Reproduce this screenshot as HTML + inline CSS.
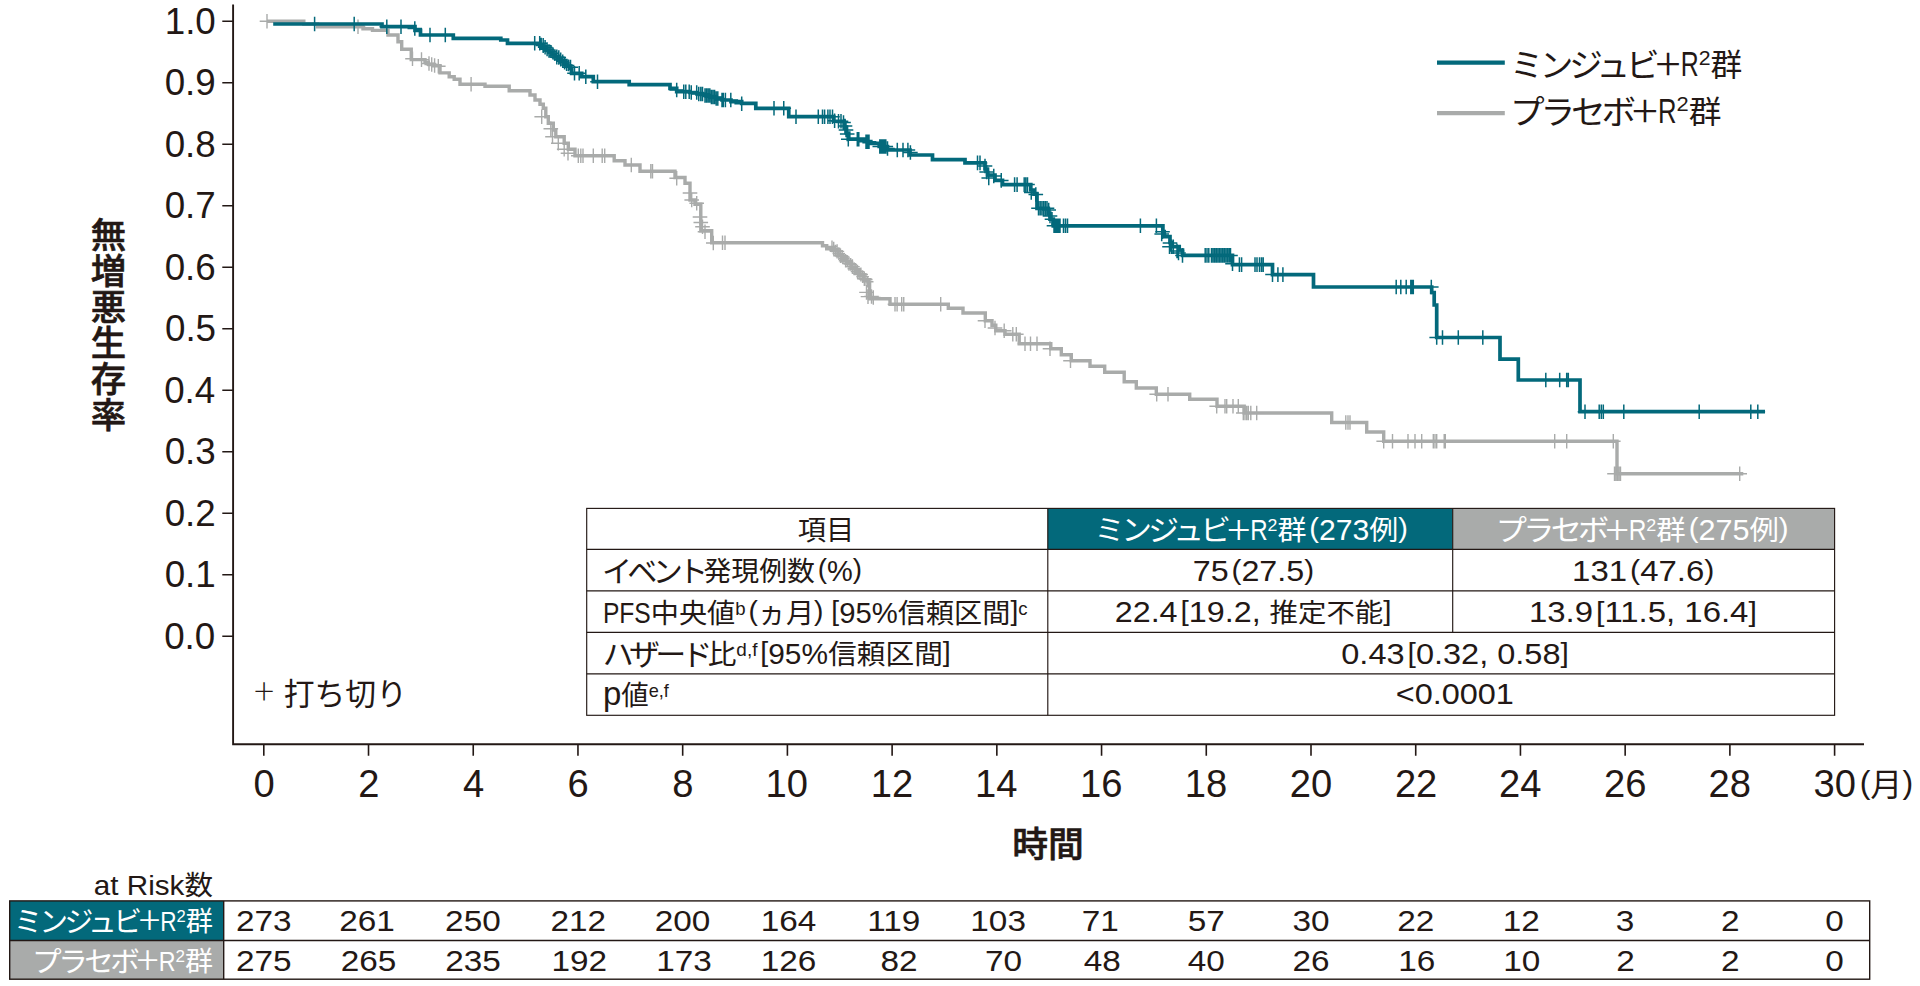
<!DOCTYPE html>
<html lang="ja"><head><meta charset="utf-8"><title>無増悪生存率 Kaplan-Meier曲線</title>
<style>
html,body{margin:0;padding:0;background:#fff}
svg{display:block}
text{font-family:"Liberation Sans", "Noto Sans CJK JP", sans-serif;white-space:pre}
.sp{font-size:66%;baseline-shift:.42em}
.s2{font-size:61%;baseline-shift:.52em}
.sl{font-size:67%;baseline-shift:.545em}
.pb{baseline-shift:.094em}
.pn{font-size:92%;baseline-shift:.076em}
.kn{font-size:106%;letter-spacing:-.12em;baseline-shift:-.03em}
.kj{font-size:88%}
.kt{font-size:108%;letter-spacing:-.155em;baseline-shift:-.03em}
.lp{font-size:120%}
.la{font-size:104%}
.ll{font-size:112%}
.pl{font-family:"Noto Sans CJK JP",sans-serif;font-weight:300;font-size:148%;baseline-shift:-.108em}
</style></head><body>
<svg width="1920" height="986" viewBox="0 0 1920 986">
<rect width="1920" height="986" fill="#fff"/>
<g fill="none" stroke-linejoin="miter" stroke-linecap="butt">
<path d="M267 21.3L303.8 21.3L303.8 24L317.5 24L317.5 26.7L363 26.7L363 28.75L372.5 28.75L372.5 30.4L388 30.4L388 35L398 35L398 41.7L401.7 41.7L401.7 49.2L411.25 49.2L411.25 59.6L425 59.6L425 62.1L428.3 62.1L428.3 64.2L433.3 64.2L433.3 65.8L440 65.8L440 72.9L449.2 72.9L449.2 76.7L454.2 76.7L454.2 79.2L460 79.2L460 84.2L485 84.2L485 86.25L509.2 86.25L509.2 90.8L530 90.8L530 95L535 95L535 100L540 100L540 104.2L543.3 104.2L543.3 108.3L545.8 108.3L545.8 116.7L548.3 116.7L548.3 123.3L553.3 123.3L553.3 130L555.8 130L555.8 136.7L564.2 136.7L564.2 143.3L568.3 143.3L568.3 149.2L575 149.2L575 155.8L614.2 155.8L614.2 160.8L625 160.8L625 165L640 165L640 171.3L675 171.3L675 177.5L685 177.5L685 183.3L690 183.3L690 200L695 200L695 204.2L700.8 204.2L700.8 230.8L711.7 230.8L711.7 242.8L822.5 242.8L822.5 245.75L826.7 245.75L826.7 248.7L833.75 248.7L833.75 250.5L838.1 250.5L838.1 254.6L842.4 254.6L842.4 258.8L846.7 258.8L846.7 263L851 263L851 267.1L855.4 267.1L855.4 271.3L859.7 271.3L859.7 275.4L864 275.4L864 279.6L868.3 279.6L868.3 282L869.6 282L869.6 298.7L890 298.7L890 304.3L948.3 304.3L948.3 308.25L963 308.25L963 313L985.3 313L985.3 320.8L992 320.8L992 325.3L995.8 325.3L995.8 330.8L1005 330.8L1005 334.2L1019.2 334.2L1019.2 343.8L1050.8 343.8L1050.8 348.8L1061.3 348.8L1061.3 354.7L1071.3 354.7L1071.3 360.8L1090 360.8L1090 366.3L1104.7 366.3L1104.7 372.2L1124.2 372.2L1124.2 381.7L1136.3 381.7L1136.3 388L1156.3 388L1156.3 394.2L1189.7 394.2L1189.7 399.2L1217 399.2L1217 406.3L1244.2 406.3L1244.2 413L1331.7 413L1331.7 422.5L1366.7 422.5L1366.7 432L1383.7 432L1383.7 441.2L1617 441.2L1617 473.8L1743.3 473.8" stroke="#a9abaa" stroke-width="3.4"/>
<path d="M267 14v14.6M259.7 21.3h14.6M358 19.4v14.6M350.7 26.7h14.6M412.5 51.5v14.6M405.2 58.8h14.6M421.5 52.3v14.6M414.2 59.6h14.6M429 56.2v14.6M421.7 63.5h14.6M431.7 57.2v14.6M424.4 64.5h14.6M434.6 58.2v14.6M427.3 65.5h14.6M438.3 58.9v14.6M431 66.2h14.6M471.1 76.9v14.6M463.8 84.2h14.6M541.7 109.4v14.6M534.4 116.7h14.6M550.8 121.4v14.6M543.5 128.7h14.6M552.5 129.4v14.6M545.2 136.7h14.6M558.3 136v14.6M551 143.3h14.6M564.2 141.9v14.6M556.9 149.2h14.6M568 146v14.6M560.7 153.3h14.6M578.3 148.5v14.6M571 155.8h14.6M580.8 148.5v14.6M573.5 155.8h14.6M583 148.5v14.6M575.7 155.8h14.6M593.3 148.5v14.6M586 155.8h14.6M602.2 148.5v14.6M594.9 155.8h14.6M604.7 148.5v14.6M597.4 155.8h14.6M631.3 157.7v14.6M624 165h14.6M650.8 164v14.6M643.5 171.3h14.6M652.5 164v14.6M645.2 171.3h14.6M676.7 171v14.6M669.4 178.3h14.6M690 185.7v14.6M682.7 193h14.6M691.7 192.7v14.6M684.4 200h14.6M696.7 196v14.6M689.4 203.3h14.6M700 209.7v14.6M692.7 217h14.6M700.8 215.2v14.6M693.5 222.5h14.6M702.5 219.4v14.6M695.2 226.7h14.6M705 224.4v14.6M697.7 231.7h14.6M713.3 235.7v14.6M706 243h14.6M722.5 235.5v14.6M715.2 242.8h14.6M725 235.5v14.6M717.7 242.8h14.6M832 240.6v11.6M826.2 246.4h11.6M833.7 241.7v13.6M826.9 248.5h13.6M835.4 244.65v12.1M829.35 250.7h12.1M837.1 244.35v14.1M830.05 251.4h14.1M838.8 247.3v12.6M832.5 253.6h12.6M840.5 248.4v14.6M833.2 255.7h14.6M842.2 249.95v13.1M835.65 256.5h13.1M843.9 252.8v11.6M838.1 258.6h11.6M845.6 253.9v13.6M838.8 260.7h13.6M847.3 255.45v12.1M841.25 261.5h12.1M849 256.55v14.1M841.95 263.6h14.1M850.7 258.1v12.6M844.4 264.4h12.6M852.4 259.3v14.6M845.1 266.6h14.6M854.1 262.15v13.1M847.55 268.7h13.1M855.8 263.7v11.6M850 269.5h11.6M857.5 264.8v13.6M850.7 271.6h13.6M859.2 267.65v12.1M853.15 273.7h12.1M860.9 267.45v14.1M853.85 274.5h14.1M862.6 270.3v12.6M856.3 276.6h12.6M864.3 271.5v14.6M857 278.8h14.6M866 272.95v13.1M859.45 279.5h13.1M867.7 275.9v11.6M861.9 281.7h11.6M866.5 285.1v14.6M859.2 292.4h14.6M868 289.3v14.6M860.7 296.6h14.6M871.5 289.2v14.6M864.2 296.5h14.6M873.3 290.2v14.6M866 297.5h14.6M895 297v14.6M887.7 304.3h14.6M897.1 297v14.6M889.8 304.3h14.6M901.7 297v14.6M894.4 304.3h14.6M903.75 297v14.6M896.45 304.3h14.6M940.7 297v14.6M933.4 304.3h14.6M985 313.5v14.6M977.7 320.8h14.6M995 320.7v14.6M987.7 328h14.6M1004.2 323.5v14.6M996.9 330.8h14.6M1012.8 326.9v14.6M1005.5 334.2h14.6M1016.3 326.9v14.6M1009 334.2h14.6M1025 336.5v14.6M1017.7 343.8h14.6M1030.5 336.5v14.6M1023.2 343.8h14.6M1037 336.5v14.6M1029.7 343.8h14.6M1050 341.5v14.6M1042.7 348.8h14.6M1070.5 353.5v14.6M1063.2 360.8h14.6M1156.7 386.9v14.6M1149.4 394.2h14.6M1168 386.9v14.6M1160.7 394.2h14.6M1216.7 399v14.6M1209.4 406.3h14.6M1225 399v14.6M1217.7 406.3h14.6M1226.7 399v14.6M1219.4 406.3h14.6M1233 399v14.6M1225.7 406.3h14.6M1238.3 399v14.6M1231 406.3h14.6M1243.3 405.7v14.6M1236 413h14.6M1245 405.7v14.6M1237.7 413h14.6M1246.7 405.7v14.6M1239.4 413h14.6M1248.3 405.7v14.6M1241 413h14.6M1250.8 405.7v14.6M1243.5 413h14.6M1256.7 405.7v14.6M1249.4 413h14.6M1345.8 415.2v14.6M1338.5 422.5h14.6M1348 415.2v14.6M1340.7 422.5h14.6M1350 415.2v14.6M1342.7 422.5h14.6M1383.7 433.9v14.6M1376.4 441.2h14.6M1392.5 433.9v14.6M1385.2 441.2h14.6M1408 433.9v14.6M1400.7 441.2h14.6M1415 433.9v14.6M1407.7 441.2h14.6M1421.7 433.9v14.6M1414.4 441.2h14.6M1433.3 433.9v14.6M1426 441.2h14.6M1435 433.9v14.6M1427.7 441.2h14.6M1436.7 433.9v14.6M1429.4 441.2h14.6M1444.2 433.9v14.6M1436.9 441.2h14.6M1445.3 433.9v14.6M1438 441.2h14.6M1554.7 433.9v14.6M1547.4 441.2h14.6M1566.7 433.9v14.6M1559.4 441.2h14.6M1613.3 433.9v14.6M1606 441.2h14.6M1614.5 466.5v14.6M1607.2 473.8h14.6M1616 466.5v14.6M1608.7 473.8h14.6M1617.5 466.5v14.6M1610.2 473.8h14.6M1619 466.5v14.6M1611.7 473.8h14.6M1620.5 466.5v14.6M1613.2 473.8h14.6M1739.7 466.5v14.6M1732.4 473.8h14.6" stroke="#a9abaa" stroke-width="1.4"/>
<path d="M273.2 24L382 24L382 26.7L415 26.7L415 30.5L420.5 30.5L420.5 35L453.3 35L453.3 38.3L500.8 38.3L500.8 40L507.5 40L507.5 43.3L540 43.3L540 45.3L543 45.3L543 47.5L546 47.5L546 50L549 50L549 52.3L552 52.3L552 54.5L555 54.5L555 57L558 57L558 59.3L561 59.3L561 61.5L564 61.5L564 64L567 64L567 66L570 66L570 68.3L571.7 68.3L571.7 73.3L581.7 73.3L581.7 76.7L593.3 76.7L593.3 81.7L629.2 81.7L629.2 84.6L670 84.6L670 88.3L676.7 88.3L676.7 91.7L690 91.7L690 92.5L697 92.5L697 94L704 94L704 95.5L710 95.5L710 97L716 97L716 98.5L722 98.5L722 100L731 100L731 101.7L741.7 101.7L741.7 103.3L755.8 103.3L755.8 108.3L788.75 108.3L788.75 116.7L833.75 116.7L833.75 121.25L844.2 121.25L844.2 127L846.5 127L846.5 133L848.75 133L848.75 139.2L864.2 139.2L864.2 141.7L870.8 141.7L870.8 143.3L879.2 143.3L879.2 146.5L887.5 146.5L887.5 150L910 150L910 155L932.5 155L932.5 159.6L965 159.6L965 162.9L985 162.9L985 169L987.5 169L987.5 175L995 175L995 180.4L1002.5 180.4L1002.5 184.6L1030.8 184.6L1030.8 190L1034 190L1034 194.2L1037 194.2L1037 208.3L1048.3 208.3L1048.3 213.3L1050 213.3L1050 219.2L1053.3 219.2L1053.3 225.8L1162.9 225.8L1162.9 231.7L1164.2 231.7L1164.2 236.7L1170 236.7L1170 242.5L1171.7 242.5L1171.7 246.7L1179.2 246.7L1179.2 250L1182.5 250L1182.5 255.4L1232.5 255.4L1232.5 264.6L1272.5 264.6L1272.5 274.6L1313.5 274.6L1313.5 287L1431.7 287L1431.7 292.5L1434.2 292.5L1434.2 305L1436.7 305L1436.7 337.5L1500 337.5L1500 359.2L1518.3 359.2L1518.3 380L1580 380L1580 411.7L1765 411.7" stroke="#03697b" stroke-width="3.7"/>
<path d="M314.6 16.7v14.6M307.3 24h14.6M354.2 16.7v14.6M346.9 24h14.6M386.8 19.4v14.6M379.5 26.7h14.6M401 19.4v14.6M393.7 26.7h14.6M414.8 21.2v14.6M407.5 28.5h14.6M430 27.7v14.6M422.7 35h14.6M445.3 27.7v14.6M438 35h14.6M534.7 36v14.6M527.4 43.3h14.6M539.7 36v14.6M532.4 43.3h14.6M541.2 37.7v11.8M535.3 43.6h11.8M543.2 37.98v15.04M535.68 45.5h15.04M545.1 40.05v14.5M537.85 47.3h14.5M547.1 42.22v13.96M540.12 49.2h13.96M549 44.29v13.42M542.29 51h13.42M551 45.06v12.88M544.56 51.5h12.88M552.9 47.13v12.34M546.73 53.3h12.34M554.9 49.3v11.8M549 55.2h11.8M556.8 49.48v15.04M549.28 57h15.04M558.8 50.25v14.5M551.55 57.5h14.5M560.7 52.42v13.96M553.72 59.4h13.96M562.7 54.49v13.42M555.99 61.2h13.42M564.6 56.56v12.88M558.16 63h12.88M566.6 58.73v12.34M560.43 64.9h12.34M568.5 59.5v11.8M562.6 65.4h11.8M570.5 59.68v15.04M562.98 67.2h15.04M574.5 66v14.6M567.2 73.3h14.6M579.2 66v14.6M571.9 73.3h14.6M585.8 69.4v14.6M578.5 76.7h14.6M597.5 74.4v14.6M590.2 81.7h14.6M676.7 82.7v14.6M669.4 90h14.6M683.75 84.4v14.6M676.45 91.7h14.6M685.8 84.4v14.6M678.5 91.7h14.6M689.2 84.4v14.6M681.9 91.7h14.6M691.25 85.2v14.6M683.95 92.5h14.6M696.7 85.2v14.6M689.4 92.5h14.6M698.75 86.7v14.6M691.45 94h14.6M700.8 86.7v14.6M693.5 94h14.6M702.5 86.7v14.6M695.2 94h14.6M705 88.2v14.6M697.7 95.5h14.6M706.6 88.2v14.6M699.3 95.5h14.6M708.2 88.2v14.6M700.9 95.5h14.6M709.8 88.2v14.6M702.5 95.5h14.6M711.4 89.7v14.6M704.1 97h14.6M713 89.7v14.6M705.7 97h14.6M714.6 89.7v14.6M707.3 97h14.6M716.2 91.2v14.6M708.9 98.5h14.6M717.8 91.2v14.6M710.5 98.5h14.6M722 92.7v14.6M714.7 100h14.6M723.3 92.7v14.6M716 100h14.6M725.4 92.7v14.6M718.1 100h14.6M730.8 92.7v14.6M723.5 100h14.6M741.7 96.5v14.6M734.4 103.8h14.6M774 101v14.6M766.7 108.3h14.6M783.75 101v14.6M776.45 108.3h14.6M796 109.4v14.6M788.7 116.7h14.6M818.3 109.4v14.6M811 116.7h14.6M822.5 109.4v14.6M815.2 116.7h14.6M824.6 109.4v14.6M817.3 116.7h14.6M827.9 109.4v14.6M820.6 116.7h14.6M830 109.4v14.6M822.7 116.7h14.6M832.5 109.4v14.6M825.2 116.7h14.6M834.6 113.5v14.6M827.3 120.8h14.6M838.5 113.95v14.6M831.2 121.25h14.6M841 113.95v14.6M833.7 121.25h14.6M843.5 115.2v14.6M836.2 122.5h14.6M845 118.7v14.6M837.7 126h14.6M846 122.7v14.6M838.7 130h14.6M847.2 126.7v14.6M839.9 134h14.6M848.3 131.9v14.6M841 139.2h14.6M857.3 131.9v14.6M850 139.2h14.6M858.8 131.9v14.6M851.5 139.2h14.6M866 134.4v14.6M858.7 141.7h14.6M867.5 134.4v14.6M860.2 141.7h14.6M869 134.4v14.6M861.7 141.7h14.6M879.8 139.2v14.6M872.5 146.5h14.6M881.3 139.2v14.6M874 146.5h14.6M882.8 139.2v14.6M875.5 146.5h14.6M884.3 139.2v14.6M877 146.5h14.6M885.8 139.2v14.6M878.5 146.5h14.6M887.5 141.2v14.6M880.2 148.5h14.6M897.3 142.7v14.6M890 150h14.6M903 142.7v14.6M895.7 150h14.6M907.9 142.7v14.6M900.6 150h14.6M910.4 145.2v14.6M903.1 152.5h14.6M977.5 155.6v14.6M970.2 162.9h14.6M980 155.6v14.6M972.7 162.9h14.6M985 158.7v14.6M977.7 166h14.6M986.7 164.7v14.6M979.4 172h14.6M988.75 170.7v14.6M981.45 178h14.6M993.75 168.7v14.6M986.45 176h14.6M1001.25 173.1v14.6M993.95 180.4h14.6M1014.6 177.3v14.6M1007.3 184.6h14.6M1017.1 177.3v14.6M1009.8 184.6h14.6M1024.2 177.3v14.6M1016.9 184.6h14.6M1025.8 177.3v14.6M1018.5 184.6h14.6M1027.5 177.3v14.6M1020.2 184.6h14.6M1031.25 185.2v14.6M1023.95 192.5h14.6M1035.8 187.2v14.6M1028.5 194.5h14.6M1038.5 201v14.6M1031.2 208.3h14.6M1040.2 201v14.6M1032.9 208.3h14.6M1041.9 201v14.6M1034.6 208.3h14.6M1043.6 201v14.6M1036.3 208.3h14.6M1045.3 201v14.6M1038 208.3h14.6M1047 201v14.6M1039.7 208.3h14.6M1048.7 202.7v14.6M1041.4 210h14.6M1050 208.7v14.6M1042.7 216h14.6M1052 211.9v14.6M1044.7 219.2h14.6M1054 218.5v14.6M1046.7 225.8h14.6M1055.5 218.5v14.6M1048.2 225.8h14.6M1057 218.5v14.6M1049.7 225.8h14.6M1058.5 218.5v14.6M1051.2 225.8h14.6M1060 218.5v14.6M1052.7 225.8h14.6M1063.5 218.5v14.6M1056.2 225.8h14.6M1065.5 218.5v14.6M1058.2 225.8h14.6M1067.5 218.5v14.6M1060.2 225.8h14.6M1140.4 218.5v14.6M1133.1 225.8h14.6M1156.4 218.5v14.6M1149.1 225.8h14.6M1162.5 224.4v14.6M1155.2 231.7h14.6M1161.7 226.7v14.6M1154.4 234h14.6M1170 235.7v14.6M1162.7 243h14.6M1169.5 239.4v14.6M1162.2 246.7h14.6M1171.5 239.4v14.6M1164.2 246.7h14.6M1173.3 239.4v14.6M1166 246.7h14.6M1177 243.7v14.6M1169.7 251h14.6M1178.5 245.7v14.6M1171.2 253h14.6M1182.5 248.1v14.6M1175.2 255.4h14.6M1205.2 248.1v14.6M1197.9 255.4h14.6M1207 248.1v14.6M1199.7 255.4h14.6M1208.8 248.1v14.6M1201.5 255.4h14.6M1211.5 248.1v14.6M1204.2 255.4h14.6M1213.1 248.1v14.6M1205.8 255.4h14.6M1214.7 248.1v14.6M1207.4 255.4h14.6M1216.3 248.1v14.6M1209 255.4h14.6M1217.9 248.1v14.6M1210.6 255.4h14.6M1219.5 248.1v14.6M1212.2 255.4h14.6M1221.1 248.1v14.6M1213.8 255.4h14.6M1222.7 248.1v14.6M1215.4 255.4h14.6M1224.3 248.1v14.6M1217 255.4h14.6M1225.9 248.1v14.6M1218.6 255.4h14.6M1227.5 248.1v14.6M1220.2 255.4h14.6M1229.1 248.1v14.6M1221.8 255.4h14.6M1230.5 248.1v14.6M1223.2 255.4h14.6M1232.5 256.45v14.6M1225.2 263.75h14.6M1239.4 257.3v14.6M1232.1 264.6h14.6M1241.6 257.3v14.6M1234.3 264.6h14.6M1255 257.3v14.6M1247.7 264.6h14.6M1257 257.3v14.6M1249.7 264.6h14.6M1259.5 257.3v14.6M1252.2 264.6h14.6M1261.5 257.3v14.6M1254.2 264.6h14.6M1263.2 257.3v14.6M1255.9 264.6h14.6M1272.5 267.3v14.6M1265.2 274.6h14.6M1277.9 267.3v14.6M1270.6 274.6h14.6M1282.9 267.3v14.6M1275.6 274.6h14.6M1396.2 279.7v14.6M1388.9 287h14.6M1400.8 279.7v14.6M1393.5 287h14.6M1406.2 279.7v14.6M1398.9 287h14.6M1410.8 279.7v14.6M1403.5 287h14.6M1412 279.7v14.6M1404.7 287h14.6M1413.3 279.7v14.6M1406 287h14.6M1431.3 279.7v14.6M1424 287h14.6M1436.7 330.2v14.6M1429.4 337.5h14.6M1442.5 330.2v14.6M1435.2 337.5h14.6M1458.3 330.2v14.6M1451 337.5h14.6M1482.8 330.2v14.6M1475.5 337.5h14.6M1545.8 372.7v14.6M1538.5 380h14.6M1559.7 372.7v14.6M1552.4 380h14.6M1566.7 372.7v14.6M1559.4 380h14.6M1568.3 372.7v14.6M1561 380h14.6M1585 404.4v14.6M1577.7 411.7h14.6M1599.2 404.4v14.6M1591.9 411.7h14.6M1601.3 404.4v14.6M1594 411.7h14.6M1603.3 404.4v14.6M1596 411.7h14.6M1623.8 404.4v14.6M1616.5 411.7h14.6M1699.2 404.4v14.6M1691.9 411.7h14.6M1750.8 404.4v14.6M1743.5 411.7h14.6M1757.8 404.4v14.6M1750.5 411.7h14.6" stroke="#03697b" stroke-width="1.5"/>
</g>
<g fill="none" stroke="#231815">
<path d="M233.1 4.5V744.3H1864" stroke-width="1.9"/>
<path d="M222.3 636.3H233M222.3 574.79H233M222.3 513.28H233M222.3 451.77H233M222.3 390.26H233M222.3 328.75H233M222.3 267.24H233M222.3 205.73H233M222.3 144.22H233M222.3 82.71H233M222.3 21.2H233M263.8 744V755.8M368.52 744V755.8M473.24 744V755.8M577.96 744V755.8M682.68 744V755.8M787.4 744V755.8M892.12 744V755.8M996.84 744V755.8M1101.56 744V755.8M1206.28 744V755.8M1311 744V755.8M1415.72 744V755.8M1520.44 744V755.8M1625.16 744V755.8M1729.88 744V755.8M1834.6 744V755.8" stroke-width="1.6"/>
</g>
<path d="M1437 62.7H1504.8" stroke="#03697b" stroke-width="4.2"/>
<path d="M1437 113.2H1504.8" stroke="#a9abaa" stroke-width="4.2"/>
<rect x="1047.8" y="508.4" width="404.9" height="41" fill="#03697b"/>
<rect x="1452.7" y="508.4" width="381.9" height="41" fill="#a9abaa"/>
<g fill="none" stroke="#231815" stroke-width="1.15">
<rect x="586.7" y="508.4" width="1247.9" height="206.9"/>
<path d="M586.7 549.4H1834.6M586.7 590.9H1834.6M586.7 632.4H1834.6M586.7 673.8H1834.6M1047.8 508.4V715.3M1452.7 508.4V632.4"/>
</g>
<rect x="9.7" y="900.9" width="214" height="39.6" fill="#03697b"/>
<rect x="9.7" y="940.5" width="214" height="38.7" fill="#a9abaa"/>
<g fill="none" stroke="#231815" stroke-width="1.4">
<rect x="9.7" y="900.9" width="1860" height="78.3"/>
<path d="M9.7 940.5H1869.7M223.7 900.9V979.2"/>
</g>
<text id="yt" font-size="35.4" font-weight="500" stroke="#231815" stroke-width="0.6" fill="#231815" style="writing-mode:vertical-rl" x="105.0" y="217.0" textLength="215.5" lengthAdjust="spacing">無増悪生存率</text>
<text id="y0" font-size="36.5" fill="#231815" transform="translate(164.14 648.6) scale(1.0080 1)">0.0</text>
<text id="y1" font-size="36.5" fill="#231815" transform="translate(164.64 587.09) scale(1.0080 1)">0.1</text>
<text id="y2" font-size="36.5" fill="#231815" transform="translate(164.64 525.58) scale(1.0080 1)">0.2</text>
<text id="y3" font-size="36.5" fill="#231815" transform="translate(164.64 464.07) scale(1.0080 1)">0.3</text>
<text id="y4" font-size="36.5" fill="#231815" transform="translate(164.14 402.56) scale(1.0080 1)">0.4</text>
<text id="y5" font-size="36.5" fill="#231815" transform="translate(164.94 341.05) scale(1.0080 1)">0.5</text>
<text id="y6" font-size="36.5" fill="#231815" transform="translate(164.64 279.54) scale(1.0080 1)">0.6</text>
<text id="y7" font-size="36.5" fill="#231815" transform="translate(164.64 218.03) scale(1.0080 1)">0.7</text>
<text id="y8" font-size="36.5" fill="#231815" transform="translate(164.64 156.52) scale(1.0080 1)">0.8</text>
<text id="y9" font-size="36.5" fill="#231815" transform="translate(164.64 95.01) scale(1.0080 1)">0.9</text>
<text id="y10" font-size="36.5" fill="#231815" transform="translate(164.7 33.5) scale(1.0080 1)">1.0</text>
<text id="x0" font-size="38" fill="#231815" transform="translate(253.38 796.5) scale(1.0046 1)">0</text>
<text id="x2" font-size="38" fill="#231815" transform="translate(358.21 796.5) scale(1.0046 1)">2</text>
<text id="x4" font-size="38" fill="#231815" transform="translate(463.07 796.5) scale(1.0046 1)">4</text>
<text id="x6" font-size="38" fill="#231815" transform="translate(567.39 796.5) scale(1.0046 1)">6</text>
<text id="x8" font-size="38" fill="#231815" transform="translate(672.2 796.5) scale(1.0046 1)">8</text>
<text id="x10" font-size="38" fill="#231815" transform="translate(765.56 796.5) scale(1.0046 1)">10</text>
<text id="x12" font-size="38" fill="#231815" transform="translate(870.73 796.5) scale(1.0046 1)">12</text>
<text id="x14" font-size="38" fill="#231815" transform="translate(975.03 796.5) scale(1.0046 1)">14</text>
<text id="x16" font-size="38" fill="#231815" transform="translate(1079.96 796.5) scale(1.0046 1)">16</text>
<text id="x18" font-size="38" fill="#231815" transform="translate(1184.69 796.5) scale(1.0046 1)">18</text>
<text id="x20" font-size="38" fill="#231815" transform="translate(1289.65 796.5) scale(1.0046 1)">20</text>
<text id="x22" font-size="38" fill="#231815" transform="translate(1394.88 796.5) scale(1.0046 1)">22</text>
<text id="x24" font-size="38" fill="#231815" transform="translate(1499.09 796.5) scale(1.0046 1)">24</text>
<text id="x26" font-size="38" fill="#231815" transform="translate(1604.03 796.5) scale(1.0046 1)">26</text>
<text id="x28" font-size="38" fill="#231815" transform="translate(1708.48 796.5) scale(1.0046 1)">28</text>
<text id="x30" font-size="38" fill="#231815" transform="translate(1813.59 796.5) scale(1.0046 1)">30</text>
<text id="xu" font-size="31.5" fill="#231815" transform="translate(1859.68 796.3) scale(1.0178 1)"><tspan class="pb">(</tspan>月<tspan class="pb">)</tspan></text>
<text id="xt" font-size="35" fill="#231815" font-weight="500" stroke="#231815" stroke-width="0.6" transform="translate(1012.15 857) scale(1.0240 1)">時間</text>
<text id="l1" font-size="31" fill="#231815" transform="translate(1510.06 76) scale(1.0232 1)"><tspan class="kn">ミンジュビ</tspan><tspan class="pl">+</tspan><tspan class="ll" textLength="17.55" lengthAdjust="spacingAndGlyphs">R</tspan><tspan class="s2 sl">2</tspan>群</text>
<text id="l2" font-size="31" fill="#231815" transform="translate(1510.03 122.8) scale(1.0557 1)"><tspan class="kn">プラセボ</tspan><tspan class="pl">+</tspan><tspan class="ll" textLength="17.55" lengthAdjust="spacingAndGlyphs">R</tspan><tspan class="s2 sl">2</tspan>群</text>
<text id="c0" font-size="25.7" fill="#231815" transform="translate(253.96 701.5) scale(1.0154 1)"><tspan class="pl" style="font-weight:100">+</tspan></text>
<text id="c1" font-size="30.5" fill="#231815" transform="translate(283.77 705.2) scale(1.0104 1)">打ち切り</text>
<text id="ar" font-size="27" fill="#231815" transform="translate(93.86 895) scale(1.0556 1)"><tspan class="la">at Risk</tspan>数</text>
<text id="r1" font-size="27" fill="#fff" transform="translate(13.84 931.4) scale(1.0072 1)"><tspan class="kn">ミンジュビ</tspan><tspan class="pl">+</tspan><tspan class="la" textLength="16.22" lengthAdjust="spacingAndGlyphs">R</tspan><tspan class="s2">2</tspan>群</text>
<text id="r2" font-size="27" fill="#fff" transform="translate(32.04 970.6) scale(1.0368 1)"><tspan class="kn">プラセボ</tspan><tspan class="pl">+</tspan><tspan class="la" textLength="16.22" lengthAdjust="spacingAndGlyphs">R</tspan><tspan class="s2">2</tspan>群</text>
<text id="n0_0" font-size="29.3" fill="#231815" transform="translate(235.96 931.3) scale(1.1380 1)">273</text>
<text id="n0_1" font-size="29.3" fill="#231815" transform="translate(339.29 931.3) scale(1.1380 1)">261</text>
<text id="n0_2" font-size="29.3" fill="#231815" transform="translate(445.12 931.3) scale(1.1380 1)">250</text>
<text id="n0_3" font-size="29.3" fill="#231815" transform="translate(550.45 931.3) scale(1.1380 1)">212</text>
<text id="n0_4" font-size="29.3" fill="#231815" transform="translate(654.68 931.3) scale(1.1380 1)">200</text>
<text id="n0_5" font-size="29.3" fill="#231815" transform="translate(760.64 931.3) scale(1.1380 1)">164</text>
<text id="n0_6" font-size="29.3" fill="#231815" transform="translate(867.14 931.3) scale(1.1380 1)">119</text>
<text id="n0_7" font-size="29.3" fill="#231815" transform="translate(970.32 931.3) scale(1.1380 1)">103</text>
<text id="n0_8" font-size="29.3" fill="#231815" transform="translate(1081.79 931.3) scale(1.1380 1)">71</text>
<text id="n0_9" font-size="29.3" fill="#231815" transform="translate(1187.72 931.3) scale(1.1380 1)">57</text>
<text id="n0_10" font-size="29.3" fill="#231815" transform="translate(1292.46 931.3) scale(1.1380 1)">30</text>
<text id="n0_11" font-size="29.3" fill="#231815" transform="translate(1397.19 931.3) scale(1.1380 1)">22</text>
<text id="n0_12" font-size="29.3" fill="#231815" transform="translate(1502.76 931.3) scale(1.1380 1)">12</text>
<text id="n0_13" font-size="29.3" fill="#231815" transform="translate(1615.73 931.3) scale(1.1380 1)">3</text>
<text id="n0_14" font-size="29.3" fill="#231815" transform="translate(1720.93 931.3) scale(1.1380 1)">2</text>
<text id="n0_15" font-size="29.3" fill="#231815" transform="translate(1825.29 931.3) scale(1.1380 1)">0</text>
<text id="n1_0" font-size="29.3" fill="#231815" transform="translate(235.96 970.9) scale(1.1380 1)">275</text>
<text id="n1_1" font-size="29.3" fill="#231815" transform="translate(340.79 970.9) scale(1.1380 1)">265</text>
<text id="n1_2" font-size="29.3" fill="#231815" transform="translate(445.23 970.9) scale(1.1380 1)">235</text>
<text id="n1_3" font-size="29.3" fill="#231815" transform="translate(551.49 970.9) scale(1.1380 1)">192</text>
<text id="n1_4" font-size="29.3" fill="#231815" transform="translate(656.19 970.9) scale(1.1380 1)">173</text>
<text id="n1_5" font-size="29.3" fill="#231815" transform="translate(760.66 970.9) scale(1.1380 1)">126</text>
<text id="n1_6" font-size="29.3" fill="#231815" transform="translate(880.56 970.9) scale(1.1380 1)">82</text>
<text id="n1_7" font-size="29.3" fill="#231815" transform="translate(985 970.9) scale(1.1380 1)">70</text>
<text id="n1_8" font-size="29.3" fill="#231815" transform="translate(1083.79 970.9) scale(1.1380 1)">48</text>
<text id="n1_9" font-size="29.3" fill="#231815" transform="translate(1187.73 970.9) scale(1.1380 1)">40</text>
<text id="n1_10" font-size="29.3" fill="#231815" transform="translate(1292.45 970.9) scale(1.1380 1)">26</text>
<text id="n1_11" font-size="29.3" fill="#231815" transform="translate(1398.28 970.9) scale(1.1380 1)">16</text>
<text id="n1_12" font-size="29.3" fill="#231815" transform="translate(1503.14 970.9) scale(1.1380 1)">10</text>
<text id="n1_13" font-size="29.3" fill="#231815" transform="translate(1616.13 970.9) scale(1.1380 1)">2</text>
<text id="n1_14" font-size="29.3" fill="#231815" transform="translate(1720.93 970.9) scale(1.1380 1)">2</text>
<text id="n1_15" font-size="29.3" fill="#231815" transform="translate(1825.29 970.9) scale(1.1380 1)">0</text>
<text id="h0" font-size="27.5" fill="#231815" transform="translate(797.64 539.6) scale(1.0304 1)">項目</text>
<text id="h1" font-size="27.5" fill="#fff" transform="translate(1094.22 539.8) scale(1.0544 1)"><tspan class="kn">ミンジュビ</tspan><tspan class="pl">+</tspan><tspan class="la" textLength="16.52" lengthAdjust="spacingAndGlyphs">R</tspan><tspan class="s2">2</tspan>群<tspan class="pb" dx="0.1em">(</tspan><tspan class="la">273</tspan>例<tspan class="pb">)</tspan></text>
<text id="h2" font-size="27.5" fill="#fff" transform="translate(1495.82 539.8) scale(1.0689 1)"><tspan class="kn">プラセボ</tspan><tspan class="pl">+</tspan><tspan class="la" textLength="16.52" lengthAdjust="spacingAndGlyphs">R</tspan><tspan class="s2">2</tspan>群<tspan class="pb" dx="0.1em">(</tspan><tspan class="la">275</tspan>例<tspan class="pb">)</tspan></text>
<text id="a0" font-size="27.5" fill="#231815" transform="translate(601.89 581) scale(1.0130 1)"><tspan class="kt">イベント</tspan>発現例数<tspan class="pb" dx="0.1em">(</tspan><tspan class="la">%</tspan><tspan class="pb">)</tspan></text>
<text id="a1" font-size="29.3" fill="#231815" transform="translate(1192.71 580.5) scale(1.1008 1)">75<tspan class="pn" dx="0.1em">(</tspan>27.5<tspan class="pn">)</tspan></text>
<text id="a2" font-size="29.3" fill="#231815" transform="translate(1572.09 580.5) scale(1.1241 1)">131<tspan class="pn" dx="0.1em">(</tspan>47.6<tspan class="pn">)</tspan></text>
<text id="b0" font-size="27.5" fill="#231815" transform="translate(602.88 622.6) scale(1.0242 1)"><tspan class="la" textLength="46.73" lengthAdjust="spacingAndGlyphs">PFS</tspan>中央値<tspan class="sp">b</tspan><tspan class="pb" dx="0.1em">(</tspan>ヵ月<tspan class="pb">)</tspan> <tspan class="pb">[</tspan><tspan class="la">95%</tspan>信頼区間<tspan class="pb">]</tspan><tspan class="sp">c</tspan></text>
<text id="b1" font-size="29.3" fill="#231815" transform="translate(1114.71 622.4) scale(1.1023 1)">22.4<tspan class="pn" dx="0.1em">[</tspan>19.2, <tspan class="kj">推定不能</tspan><tspan class="pn">]</tspan></text>
<text id="b2" font-size="29.3" fill="#231815" transform="translate(1528.88 622.4) scale(1.1243 1)">13.9<tspan class="pn" dx="0.1em">[</tspan>11.5, 16.4<tspan class="pn">]</tspan></text>
<text id="d0" font-size="27.5" fill="#231815" transform="translate(602.85 664) scale(1.0441 1)"><tspan class="kt">ハザード</tspan>比<tspan class="sp">d,f</tspan><tspan class="pb" dx="0.1em">[</tspan><tspan class="la">95%</tspan>信頼区間<tspan class="pb">]</tspan></text>
<text id="d1" font-size="29.3" fill="#231815" transform="translate(1341.29 663.8) scale(1.1102 1)">0.43<tspan class="pn" dx="0.1em">[</tspan>0.32, 0.58<tspan class="pn">]</tspan></text>
<text id="e0" font-size="27.5" fill="#231815" transform="translate(602.9 705.4) scale(0.9996 1)"><tspan class="lp">p</tspan>値<tspan class="sp">e,f</tspan></text>
<text id="e1" font-size="29.3" fill="#231815" transform="translate(1395.7 704.4) scale(1.1076 1)">&lt;0.0001</text>
</svg>
</body></html>
